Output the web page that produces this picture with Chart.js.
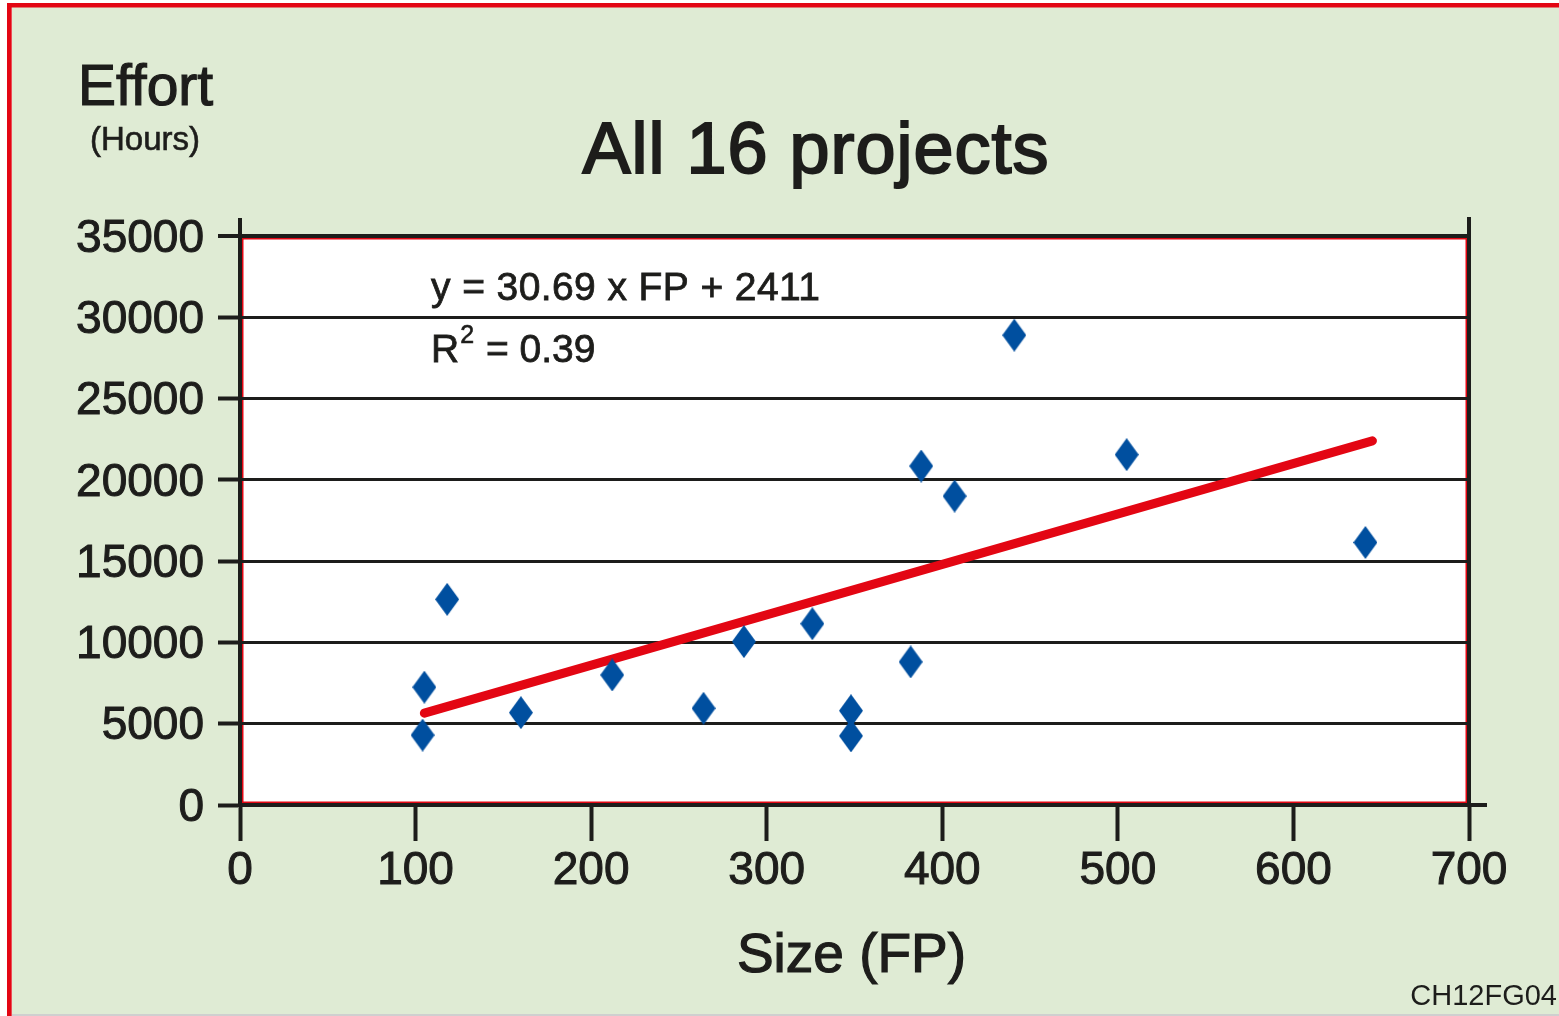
<!DOCTYPE html>
<html>
<head>
<meta charset="utf-8">
<script src="https://cdn.jsdelivr.net/npm/chart.js@4.4.1/dist/chart.umd.min.js"></script>
<style>
  html, body { margin: 0; padding: 0; background: #ffffff; }
  #wrap { width: 1559px; height: 1016px; }
</style>
</head>
<body>
<div id="wrap"><canvas id="effortChart" width="1559" height="1016"></canvas></div>
<script>
// Datos (tamano en FP, esfuerzo en horas)
const sizeFP = [104, 105, 118, 160, 212, 264, 287, 326, 348, 348, 382, 388, 407, 441, 505, 641];
const effortHours = [4300, 7250, 12650, 5680, 8000, 5950, 10050, 11150, 5800, 4250, 8800, 20850, 19000, 28900, 21550, 16150];

// Recta de regresion (extremos)
const trendX = [105, 645];
const trendY = [5650, 22400];

const xTicks = [0, 100, 200, 300, 400, 500, 600, 700];
const yTicks = [0, 5000, 10000, 15000, 20000, 25000, 30000, 35000];

const FONT = '"Liberation Sans", Arial, Helvetica, sans-serif';
const INK = '#1d1d1b';
const RED = '#e30613';
const BLUE = '#004f9f';
const GREEN = '#dfebd4';

// Rombo alto para los puntos
function makeDiamond() {
  const c = document.createElement('canvas');
  c.width = 24;
  c.height = 33;
  const g = c.getContext('2d');
  g.fillStyle = BLUE;
  g.beginPath();
  g.moveTo(12, 0);
  g.lineTo(24, 16.5);
  g.lineTo(12, 33);
  g.lineTo(0, 16.5);
  g.closePath();
  g.fill();
  return c;
}

// texto con un poco de trazo para que quede algo mas grueso
function heavyText(ctx, text, x, y, stroke) {
  ctx.fillText(text, x, y);
  if (stroke) {
    ctx.lineWidth = stroke;
    ctx.strokeStyle = INK;
    ctx.strokeText(text, x, y);
  }
}

const backgroundPlugin = {
  id: 'background',
  beforeDraw(chart) {
    const ctx = chart.ctx;
    const a = chart.chartArea;
    ctx.save();
    ctx.fillStyle = '#ffffff';
    ctx.fillRect(0, 0, chart.width, chart.height);
    ctx.fillStyle = GREEN;
    ctx.fillRect(12, 7, chart.width - 12, chart.height - 7);
    // marco rojo exterior
    ctx.fillStyle = RED;
    ctx.fillRect(7, 3, chart.width - 7, 4.5);
    ctx.fillRect(7, 3, 4.7, chart.height - 3);
    ctx.fillStyle = '#cfcfcf';
    ctx.fillRect(12, chart.height - 2, chart.width - 12, 2);
    // zona de trazado
    ctx.fillStyle = '#ffffff';
    ctx.fillRect(a.left, a.top, a.right - a.left, a.bottom - a.top);
    ctx.strokeStyle = RED;
    ctx.lineWidth = 2;
    ctx.strokeRect(a.left + 2.5, a.top + 2.5, a.right - a.left - 5, a.bottom - a.top - 5);
    ctx.restore();
  },
  afterDraw(chart) {
    const ctx = chart.ctx;
    const a = chart.chartArea;
    ctx.save();
    // prolongaciones de los ejes
    ctx.strokeStyle = INK;
    ctx.lineWidth = 4;
    ctx.beginPath();
    ctx.moveTo(a.left, a.top);
    ctx.lineTo(a.left, a.top - 18);
    ctx.moveTo(a.right, a.bottom);
    ctx.lineTo(a.right, a.top - 19);
    ctx.moveTo(a.right, a.bottom);
    ctx.lineTo(a.right + 18, a.bottom);
    ctx.stroke();

    ctx.fillStyle = INK;
    ctx.textBaseline = 'alphabetic';
    ctx.textAlign = 'left';
    ctx.font = '57px ' + FONT;
    heavyText(ctx, 'Effort', 78, 105, 1.2);
    ctx.font = '33px ' + FONT;
    heavyText(ctx, '(Hours)', 90, 150, 0.6);

    ctx.textAlign = 'center';
    ctx.font = '72px ' + FONT;
    ctx.letterSpacing = '1px';
    heavyText(ctx, 'All 16 projects', 816, 173, 2);
    ctx.letterSpacing = '0px';

    ctx.textAlign = 'left';
    ctx.font = '39px ' + FONT;
    ctx.letterSpacing = '0.4px';
    heavyText(ctx, 'y = 30.69 x FP + 2411', 431, 300, 0.8);
    ctx.letterSpacing = '0px';
    heavyText(ctx, 'R', 431, 362, 0.8);
    const rw = ctx.measureText('R').width;
    ctx.font = '25px ' + FONT;
    heavyText(ctx, '2', 431 + rw + 1, 343, 0.6);
    const sw = ctx.measureText('2').width;
    ctx.font = '39px ' + FONT;
    heavyText(ctx, ' = 0.39', 431 + rw + sw + 2, 362, 0.8);

    ctx.textAlign = 'right';
    ctx.font = '29px ' + FONT;
    heavyText(ctx, 'CH12FG04', 1557, 1005, 0);

    // titulo del eje x
    ctx.textAlign = 'center';
    ctx.font = '55px ' + FONT;
    heavyText(ctx, 'Size (FP)', (a.left + a.right) / 2 - 3, 972, 1.2);
    ctx.restore();
  }
};

const ctx = document.getElementById('effortChart').getContext('2d');
const effortChart = new Chart(ctx, {
  type: 'scatter',
  data: {
    datasets: [
      {
        label: 'Proyectos',
        data: sizeFP.map((x, i) => ({ x: x, y: effortHours[i] })),
        pointStyle: makeDiamond(),
        order: 1
      },
      {
        label: 'Tendencia',
        data: trendX.map((x, i) => ({ x: x, y: trendY[i] })),
        showLine: true,
        borderColor: RED,
        borderWidth: 9,
        borderCapStyle: 'round',
        pointRadius: 0,
        order: 2
      }
    ]
  },
  options: {
    responsive: false,
    devicePixelRatio: 1,
    animation: false,
    events: [],
    layout: { padding: { top: 236, right: 90, left: 0, bottom: 0 } },
    plugins: {
      legend: { display: false },
      tooltip: { enabled: false }
    },
    scales: {
      x: {
        type: 'linear',
        min: 0,
        max: 700,
        afterBuildTicks: scale => { scale.ticks = xTicks.map(v => ({ value: v })); },
        afterFit: scale => {
          scale.height = 211;
          scale.paddingLeft = 0;
          scale.paddingRight = 0;
        },
        ticks: {
          color: INK,
          font: { family: FONT, size: 46 },
          textStrokeColor: INK,
          textStrokeWidth: 1,
          padding: 3,
          maxRotation: 0,
          callback: v => String(v)
        },
        grid: {
          drawOnChartArea: false,
          drawTicks: true,
          tickLength: 36,
          tickColor: INK,
          tickWidth: 4
        },
        border: { display: true, color: INK, width: 4 },
        title: { display: false }
      },
      y: {
        type: 'linear',
        min: 0,
        max: 35000,
        afterBuildTicks: scale => { scale.ticks = yTicks.map(v => ({ value: v })); },
        afterFit: scale => {
          scale.width = 240;
          scale.paddingTop = 0;
          scale.paddingBottom = 0;
        },
        ticks: {
          color: INK,
          font: { family: FONT, size: 46 },
          textStrokeColor: INK,
          textStrokeWidth: 1,
          padding: 14,
          labelOffset: 3,
          callback: v => String(v)
        },
        grid: {
          color: INK,
          lineWidth: c => (c.tick && c.tick.value === 35000 ? 4 : 3),
          drawTicks: true,
          tickLength: 22,
          tickColor: INK,
          tickWidth: 4
        },
        border: { display: true, color: INK, width: 4 }
      }
    }
  },
  plugins: [backgroundPlugin]
});
</script>
</body>
</html>
